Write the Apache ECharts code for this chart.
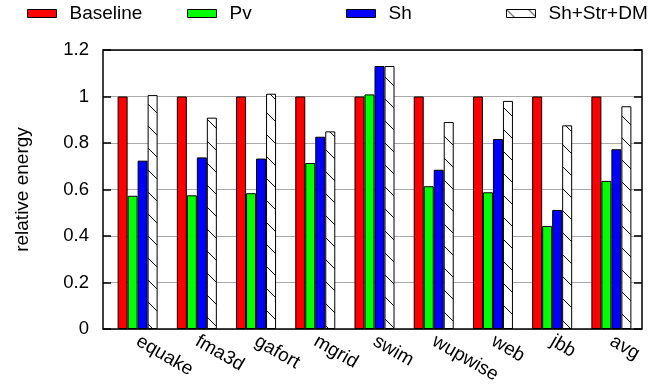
<!DOCTYPE html>
<html>
<head>
<meta charset="utf-8">
<script src="https://cdn.jsdelivr.net/npm/echarts@6/dist/echarts.min.js"></script>
<style>html,body{margin:0;padding:0;background:#fff;}#c{width:663px;height:388px;}</style>
</head>
<body>
<div id="c"></div>
<script>
var categories = ['equake', 'fma3d', 'gafort', 'mgrid', 'swim', 'wupwise', 'web', 'jbb', 'avg'];
var seriesNames = ['Baseline', 'Pv', 'Sh', 'Sh+Str+DM'];
var baseline = [1, 1, 1, 1, 1, 1, 1, 1, 1];
var pv = [0.573, 0.575, 0.584, 0.714, 1.009, 0.614, 0.588, 0.443, 0.637];
var sh = [0.724, 0.738, 0.733, 0.827, 1.131, 0.685, 0.817, 0.512, 0.773];
var shStrDm = [1.006, 0.909, 1.012, 0.850, 1.131, 0.890, 0.981, 0.876, 0.958];
var yTickLabels = ['0', '0.2', '0.4', '0.6', '0.8', '1', '1.2'];

var FONT = "'Liberation Sans', Arial, Helvetica, sans-serif";

// hatch pattern
var tile = document.createElement('canvas');
tile.width = 22; tile.height = 22;
var g = tile.getContext('2d');
g.fillStyle = '#fff'; g.fillRect(0, 0, 22, 22);
g.strokeStyle = '#000'; g.lineWidth = 1;
g.beginPath();
g.moveTo(-2, -2); g.lineTo(24, 24);
g.stroke();
var hatch = { image: tile, repeat: 'repeat' };

var colors = ['#ff0000', '#00ff00', '#0000ff', hatch];
var values = [baseline, pv, sh, shStrDm];

var chart = echarts.init(document.getElementById('c'), null, { renderer: 'canvas' });

var legendLefts = [27, 187, 346, 506];
var legends = seriesNames.map(function (n, i) {
  return {
    data: [n],
    left: legendLefts[i],
    top: 4,
    padding: 0,
    itemWidth: 29,
    itemHeight: 8,
    icon: 'rect',
    selectedMode: false,
    itemStyle: { borderColor: '#000', borderWidth: 1 },
    textStyle: { fontFamily: FONT, fontSize: 19, color: '#000', padding: [0, 0, 0, 8] }
  };
});

var series = seriesNames.map(function (n, i) {
  return {
    name: n,
    type: 'bar',
    xAxisIndex: 1,
    yAxisIndex: 2,
    data: values[i],
    barWidth: 10,
    barGap: '0%',
    animation: false,
    itemStyle: { color: colors[i], borderColor: '#000', borderWidth: 1 }
  };
});

var option = {
  animation: false,
  legend: legends,
  grid: [
    { left: 103, right: 21, top: 50, bottom: 59, show: true, borderColor: '#000', borderWidth: 1.5, backgroundColor: 'transparent', z: 5 },
    { left: 108, width: 533, top: 50, bottom: 59 }
  ],
  xAxis: [
    { type: 'category', gridIndex: 0, data: categories, show: false },
    {
      type: 'category', gridIndex: 1, data: categories,
      axisLine: { show: false }, axisTick: { show: false },
      axisLabel: { rotate: -30, margin: 11, fontFamily: FONT, fontSize: 19, color: '#000', interval: 0 }
    }
  ],
  yAxis: [
    {
      type: 'value', gridIndex: 0, position: 'left', min: 0, max: 1.2, interval: 0.2,
      name: 'relative energy', nameLocation: 'middle', nameRotate: 90, nameGap: 71,
      nameTextStyle: { fontFamily: FONT, fontSize: 19, color: '#000' },
      axisLine: { show: false },
      axisTick: { show: true, inside: true, length: 8, lineStyle: { color: '#000', width: 1.5 } },
      axisLabel: {
        margin: 14, fontFamily: FONT, fontSize: 18.5, color: '#000',
        formatter: function (v) { return yTickLabels[Math.round(v / 0.2)]; }
      },
      splitLine: { show: true, lineStyle: { color: '#aaaaaa', width: 1 } }
    },
    {
      type: 'value', gridIndex: 0, position: 'right', min: 0, max: 1.2, interval: 0.2,
      axisLine: { show: false },
      axisTick: { show: true, inside: true, length: 8, lineStyle: { color: '#000', width: 1.5 } },
      axisLabel: { show: false },
      splitLine: { show: false }
    },
    {
      type: 'value', gridIndex: 1, min: 0, max: 1.2, interval: 0.2, show: false,
      splitLine: { show: false }
    }
  ],
  series: series
};
chart.setOption(option);
</script>
</body>
</html>
